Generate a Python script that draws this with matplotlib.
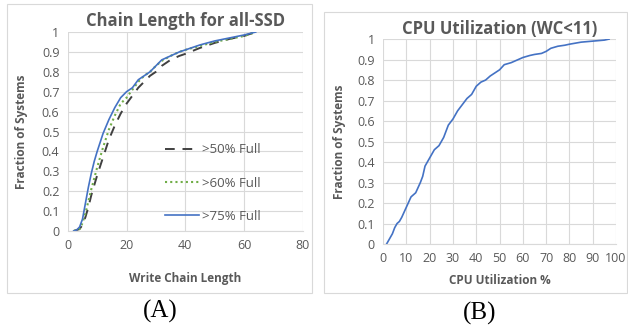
import matplotlib
matplotlib.use("Agg")
import matplotlib.pyplot as plt
from matplotlib.patches import Rectangle

plt.rcParams['font.family'] = ['Open Sans', 'DejaVu Sans']

# --- Panel A: write chain length CDFs ---
chain_x75 = [2, 3, 4, 5, 6, 7, 8, 9, 10, 12, 14, 16, 18, 20, 22, 24, 26, 28, 30, 32, 35, 38, 40, 45, 50, 55, 60, 64]
chain_y75 = [0, 0.005, 0.02, 0.06, 0.14, 0.22, 0.29, 0.35, 0.40, 0.49, 0.56, 0.62, 0.67, 0.70, 0.72, 0.76, 0.78, 0.80, 0.83, 0.86, 0.88, 0.90, 0.91, 0.935, 0.955, 0.97, 0.985, 1.0]

chain_x60 = [2, 4, 5, 6, 7, 8, 10, 12, 14, 16, 18, 20, 22, 24, 26, 28, 30, 32, 35, 38, 40, 45, 50, 55, 60, 64]
chain_y60 = [0, 0.01, 0.04, 0.09, 0.15, 0.21, 0.32, 0.42, 0.51, 0.58, 0.64, 0.67, 0.71, 0.75, 0.78, 0.80, 0.83, 0.855, 0.88, 0.90, 0.91, 0.93, 0.95, 0.965, 0.98, 1.0]

chain_x50 = [2, 4, 5, 6, 7, 8, 10, 12, 14, 16, 18, 20, 22, 24, 26, 28, 30, 32, 35, 38, 40, 45, 50, 55, 60, 64]
chain_y50 = [0, 0.01, 0.03, 0.07, 0.12, 0.18, 0.28, 0.37, 0.46, 0.53, 0.59, 0.64, 0.68, 0.72, 0.75, 0.78, 0.80, 0.83, 0.86, 0.88, 0.89, 0.92, 0.945, 0.965, 0.98, 1.0]

# --- Panel B: CPU utilization CDF ---
cpu_x = [1.5, 2, 3, 4, 5, 6, 7, 8, 10, 12, 14, 16, 17, 18, 20, 22, 24, 26, 28, 30, 32, 34, 36, 38, 40, 42, 44,
         46, 48, 50, 52, 55, 58, 60, 63, 65, 68, 70, 72, 75, 78, 80, 85, 90, 95, 97]
cpu_y = [0, 0.01, 0.03, 0.05, 0.08, 0.10, 0.11, 0.13, 0.18, 0.23, 0.25, 0.30, 0.33, 0.38, 0.42, 0.46, 0.48, 0.52,
         0.58, 0.61, 0.65, 0.68, 0.71, 0.73, 0.77, 0.79, 0.80, 0.82, 0.835, 0.85, 0.875, 0.885, 0.90, 0.91, 0.92,
         0.925, 0.93, 0.94, 0.955, 0.965, 0.97, 0.975, 0.985, 0.99, 0.995, 1.0]

yticks = [0, 0.1, 0.2, 0.3, 0.4, 0.5, 0.6, 0.7, 0.8, 0.9, 1]
ytick_labels = ["0", "0.1", "0.2", "0.3", "0.4", "0.5", "0.6", "0.7", "0.8", "0.9", "1"]

GRAY = "#595959"
GRID = "#d9d9d9"


def style_axes(ax):
    for s in ["top", "right", "left"]:
        ax.spines[s].set_visible(False)
    ax.spines["bottom"].set_color(GRID)
    ax.grid(True, color=GRID, linewidth=0.8)
    ax.set_axisbelow(True)
    ax.tick_params(length=0, labelsize=9, labelcolor=GRAY, pad=6)
    ax.set_yticks(yticks)
    ax.set_yticklabels(ytick_labels)
    ax.set_ylim(0, 1)


fig = plt.figure(figsize=(6.28, 3.30), dpi=100)

# panel frames
fig.patches.append(Rectangle((7 / 628, 1 - 293 / 330), 305 / 628, 289 / 330, transform=fig.transFigure,
                             fill=False, edgecolor=GRID, linewidth=0.8))
fig.patches.append(Rectangle((324 / 628, 1 - 293 / 330), 303 / 628, 281 / 330, transform=fig.transFigure,
                             fill=False, edgecolor=GRID, linewidth=0.8))

ax1 = fig.add_axes([0.108, 0.30, 0.374, 0.603])
ax1.plot(chain_x50, chain_y50, color="#404040", linestyle=(0, (5, 4)), linewidth=1.4, label=">50% Full")
ax1.plot(chain_x60, chain_y60, color="#70ad47", linestyle=(0, (1, 1.5)), linewidth=1.5, label=">60% Full")
ax1.plot(chain_x75, chain_y75, color="#4472c4", linewidth=1.2, label=">75% Full")
style_axes(ax1)
ax1.set_xlim(0, 80)
ax1.set_xticks([0, 20, 40, 60, 80])
ax1.set_title("Chain Length for all-SSD", fontsize=12, fontweight="bold", color=GRAY, pad=4)
ax1.set_xlabel("Write Chain Length", fontsize=8.5, fontweight="bold", color=GRAY, labelpad=14)
ax1.set_ylabel("Fraction of Systems", fontsize=8.5, fontweight="bold", color=GRAY, labelpad=10)
ax1.legend(loc="lower right", bbox_to_anchor=(0.87, -0.02), frameon=False, fontsize=9.5, labelcolor=GRAY,
           labelspacing=1.55, handlelength=2.6, handletextpad=0.2)

ax2 = fig.add_axes([0.61, 0.2606, 0.371, 0.621])
ax2.plot(cpu_x, cpu_y, color="#4472c4", linewidth=1.2)
style_axes(ax2)
ax2.set_xlim(0, 100)
ax2.set_xticks(range(0, 101, 10))
ax2.set_title("CPU Utilization (WC<11)", fontsize=12, fontweight="bold", color=GRAY, pad=4)
ax2.set_xlabel("CPU Utilization %", fontsize=8.5, fontweight="bold", color=GRAY, labelpad=6)
ax2.set_ylabel("Fraction of Systems", fontsize=8.5, fontweight="bold", color=GRAY, labelpad=8)

fig.text(160 / 628, 1 - 311 / 330, "(A)", fontsize=18, family="Liberation Serif", ha="center", va="center")
fig.text(480 / 628, 1 - 313 / 330, "(B)", fontsize=18, family="Liberation Serif", ha="center", va="center")

fig.savefig("out.png", dpi=100)
